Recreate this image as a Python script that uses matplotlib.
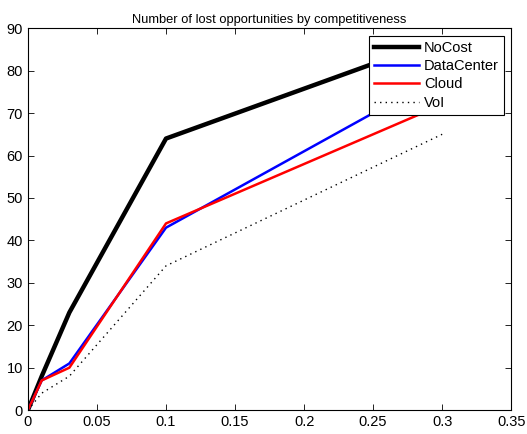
import numpy as np
import matplotlib.pyplot as plt

plt.rcParams['font.family'] = ['Liberation Sans', 'DejaVu Sans']

# competitiveness levels
x = [0, 0.01, 0.03, 0.1, 0.3]

no_cost     = [0, 8, 23, 64, 87.5]
data_center = [0, 7, 11, 43, 79]
cloud       = [0, 7, 10, 44, 72]
voi         = [0, 4, 8, 34, 65]

fig = plt.figure(figsize=(5.27, 4.34), dpi=100)
ax = fig.add_axes([0.053, 0.055, 0.917, 0.880])

ax.plot(x, no_cost, color='black', lw=3.2, label='NoCost')
ax.plot(x, data_center, color='blue', lw=1.8, label='DataCenter')
ax.plot(x, cloud, color='red', lw=1.8, label='Cloud')
ax.plot(x, voi, color='black', lw=1.0, ls=(0, (1, 3)), label='VoI')

ax.set_xlim(0, 0.35)
ax.set_ylim(0, 90)
ax.set_xticks(np.arange(0, 0.351, 0.05))
ax.set_xticklabels(['0', '0.05', '0.1', '0.15', '0.2', '0.25', '0.3', '0.35'])
ax.set_yticks(np.arange(0, 91, 10))
ax.tick_params(direction='in', top=True, right=True, labelsize=10.5, length=4, width=0.6)
for s in ax.spines.values():
    s.set_linewidth(0.8)

ax.set_title('Number of lost opportunities by competitiveness', fontsize=9.3, pad=4)

leg = ax.legend(loc='upper right', fontsize=10.5, fancybox=False, framealpha=1,
                edgecolor='black', borderpad=0.35, labelspacing=0.3,
                handlelength=3.1, handletextpad=0.35, borderaxespad=0.5)
leg.get_frame().set_linewidth(0.8)

plt.savefig('out.png', dpi=100)
